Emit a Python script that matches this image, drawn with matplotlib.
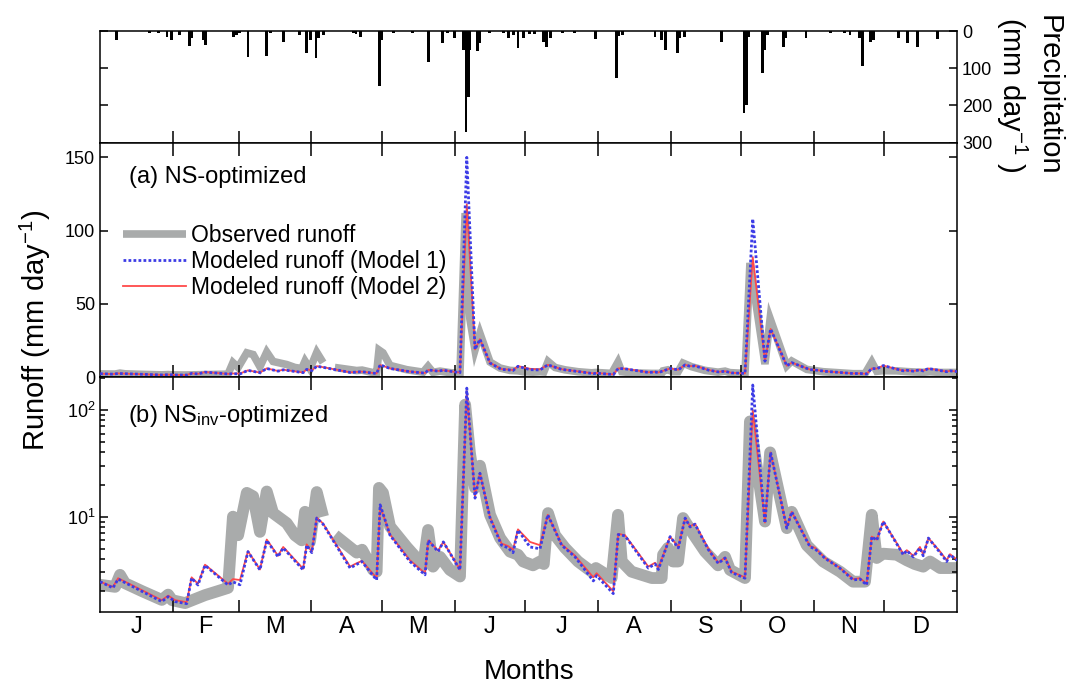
import numpy as np
import matplotlib
matplotlib.use('Agg')
import matplotlib.pyplot as plt
from matplotlib.ticker import NullFormatter, LogLocator

plt.rcParams['font.family'] = ['Liberation Sans', 'DejaVu Sans']
plt.rcParams['mathtext.fontset'] = 'custom'
plt.rcParams['mathtext.rm'] = 'Liberation Sans'
plt.rcParams['mathtext.it'] = 'Liberation Sans:italic'
plt.rcParams['mathtext.bf'] = 'Liberation Sans:bold'

TICK_FONT_SIZE = 13
OBS_COLOR = '#a9abab'
M1_COLOR = '#3c3ce6'
M2_COLOR = '#ff4a4a'

MONTHS = ['J', 'F', 'M', 'A', 'M', 'J', 'J', 'A', 'S', 'O', 'N', 'D']
MONTH_DAYS = [31, 28, 31, 30, 31, 30, 31, 31, 30, 31, 30, 31]

# daily precipitation (mm/day), only the rainy days
precip_day = [7, 21, 25, 28.5, 30.5, 34, 38, 39, 44, 45, 57, 58, 59.5, 63, 71, 72.5, 78, 85, 88, 89.5,
              92, 93, 95, 108, 109, 111, 119, 120, 125, 133, 140, 146, 148, 151, 154.7, 155.9, 156.9,
              157.6, 160.7, 161.8, 166, 172, 174, 176, 178, 180.3, 183, 185, 188.8, 190.2, 192, 197,
              202, 211, 220, 221, 222.4, 236.4, 239, 241, 246, 247, 249, 264.8, 274.3, 275.4, 276.3,
              282.2, 283.2, 284.2, 291, 292, 300.7, 311, 317, 319.4, 323.5, 324.8, 328, 329.5, 340,
              344, 348, 356.8]
precip_mm = [24, 4, 4, 15, 24, 11, 40, 20, 24, 37, 15, 11, 6, 70, 66, 6, 30, 11, 58, 24,
             73, 20, 11, 6, 8, 15, 149, 24, 6, 6, 82, 33, 5, 20, 51, 270, 176,
             51, 54, 33, 4, 6, 20, 11, 46, 20, 8, 8, 29, 42, 20, 4,
             4, 22, 127, 13, 11, 15, 24, 51, 60, 20, 15, 29, 220, 198, 15,
             113, 51, 11, 42, 20, 20, 4, 4, 11, 20, 94, 29, 24, 20,
             33, 42, 22]

# observed runoff (mm/day), nan = missing
obs_day = [0, 6.4, 8.5, 10.6, 18, 26.3, 29, 30.7, 36.2, 44.7, 50, 54.5, 56.6, 58.8, 62.5, 65.2, 68.1, 71,
           73.7, 79.5, 83, 85.9, 87.3, 89.4, 92.3, 95, 97, 100, 109.3, 111.6, 116.3, 117.8, 118.8, 120.5,
           123.5, 130.6, 137.6, 139.7, 141.8, 144.8, 149, 153.3, 155.5, 157.5, 159.7, 161.8, 166.1,
           170.4, 174.6, 178, 180.2, 184.4, 187.4, 189, 190.8, 193.8, 198, 203.6, 209.4, 211.2, 217.9,
           220.6, 222.2, 226.4, 235, 239.2, 239.8, 241.9, 244, 246.2, 248.3, 252, 257.7, 263.2, 266.2,
           268.3, 274.7, 276.8, 283.2, 285.4, 292.5, 294.6, 301, 308, 315.2, 320.7, 325.8, 328.7, 330.8,
           333.5, 339.3, 343.6, 347, 350.6, 353.5, 357.8, 365]
obs_runoff = [2.3, 2.2, 2.85, 2.38, 2.0, 1.66, 1.86, 1.65, 1.55, 1.84, 2.0, 2.15, 10.0, 6.7, 16.7, 15.5, 7.2, 17.2,
              10.8, 8.7, 6.7, 6.0, 11.1, 5.8, 17.0, 10.0, np.nan, 6.7, 4.6, 4.9, 3.17, 3.05, 18.6, 16.7,
              8.1, 5.2, 3.5, 7.5, 3.4, 4.2, 3.17, 2.75, 112, 40, 18.6, 30, 10.4,
              6.3, 4.7, 4.4, 3.8, 3.5, 3.8, 3.6, 10.8, 6.7, 5.1, 3.8, 3.05, 3.3, 2.66,
              10.4, 3.8, 3.05, 2.66, 2.66, 4.4, 5.1, 3.8, 3.8, 9.7, 7.2, 4.7, 3.5, 4.2,
              3.17, 2.66, 78, 9.0, 40, 7.8, 11.1, 5.4, 3.8, 3.05, 2.46, 2.46, 10.4, 4.1,
              4.5, 4.4, 3.9, 3.6, 3.4, 3.8, 3.3, 3.3]

# modeled runoff (mm/day)
mod_day = [0, 5.5, 7.7, 26.3, 29, 32, 36.9, 39, 41.7, 44.7,
           54.5, 56.6, 59.6, 63, 68.1, 71, 75.8, 78, 86.5, 88,
           90.2, 92.3, 95, 106.5, 108.6, 111.5, 117.8, 119.3, 123.5, 132,
           138.4, 139.8, 144, 146.2, 153.3, 156.2, 159.7, 161.8, 166.1, 171,
           173.8, 175.9, 178, 183.1, 187.4, 190.7, 196.6, 202.3, 210.1, 211.5,
           218.6, 220.7, 223.6, 233.5, 236.4, 237.8, 242.8, 246.3, 249.2, 251.3,
           253.4, 259.1, 263.3, 266.2, 269, 274.7, 278, 283.2, 285.6, 292.5,
           294.6, 302.4, 304.5, 308.8, 315.2, 320.8, 323.7, 326.5, 328.7, 330.8,
           333.6, 342.1, 343.6, 346.4, 349.2, 350.6, 352.8, 357.8, 360.6, 362,
           365]

# (a) NS-optimized
m1_ns = [2.46, 2.15, 2.6, 1.6, 1.78, 1.6, 1.53, 2.66, 2.29, 3.5,
         2.29, 2.45, 2.3, 4.7, 3.17, 6.0, 4.2, 5.1, 3.17, 5.4,
         4.6, 7.5, 6.8, 3.3, 3.5, 3.8, 2.55, 8.5, 6.0, 3.8,
         2.85, 5.0, 4.2, 4.8, 3.17, 150, 19, 26, 9.7, 5.4,
         5.1, 4.6, 7.5, 5.2, 5.0, 8.5, 5.4, 4.2, 2.5, 2.8,
         1.9, 6.0, 5.8, 3.3, 3.6, 3.2, 6.0, 5.1, 8.5, 7.5,
         7.8, 4.9, 3.65, 4.1, 3.0, 2.65, 108, 11, 33, 7.8,
         10.0, 5.2, 5.0, 4.07, 3.28, 2.55, 2.6, 2.29, 6.0, 5.8,
         8.0, 4.4, 4.8, 4.2, 5.1, 4.3, 6.0, 4.6, 3.8, 4.4,
         3.9]
m2_ns = [2.46, 2.2, 2.65, 1.65, 1.82, 1.65, 1.58, 2.7, 2.35, 3.55,
         2.35, 2.6, 2.55, 4.75, 3.2, 6.1, 4.3, 5.2, 3.25, 5.5,
         4.7, 7.6, 6.9, 3.4, 3.6, 3.85, 2.66, 8.4, 6.1, 3.9,
         2.95, 5.0, 4.3, 4.8, 3.2, 118, 19, 26, 9.9, 5.6,
         5.3, 4.9, 7.6, 5.8, 5.4, 8.5, 5.5, 4.3, 2.7, 2.95,
         2.0, 6.1, 5.9, 3.4, 3.7, 3.3, 6.0, 5.2, 8.5, 7.6,
         7.9, 5.0, 3.7, 4.15, 3.05, 2.7, 82, 11, 33, 7.9,
         10.0, 5.3, 5.1, 4.1, 3.3, 2.6, 2.65, 2.35, 6.0, 5.9,
         8.0, 4.5, 4.85, 4.3, 5.2, 4.4, 6.0, 4.7, 3.9, 4.45,
         3.95]

# (b) NSinv-optimized
m1_inv = [2.46, 2.15, 2.6, 1.6, 1.78, 1.6, 1.53, 2.66, 2.29, 3.5,
          2.29, 2.45, 2.3, 4.7, 3.17, 6.0, 4.2, 5.1, 3.17, 5.4,
          4.6, 9.7, 8.5, 3.3, 3.5, 3.8, 2.55, 12.9, 6.7, 3.8,
          2.85, 6.0, 4.7, 5.8, 3.17, 160, 14.9, 25.5, 9.7, 5.4,
          5.1, 4.6, 7.5, 5.2, 5.0, 10.4, 5.4, 4.2, 2.5, 2.8,
          1.9, 6.8, 6.6, 3.3, 3.6, 3.2, 6.5, 5.1, 9.7, 8.0,
          8.5, 4.9, 3.65, 4.1, 3.0, 2.65, 171, 8.7, 40, 7.8,
          11.1, 5.2, 5.0, 4.07, 3.28, 2.55, 2.6, 2.29, 6.5, 6.0,
          9.0, 4.4, 4.8, 4.2, 5.1, 4.3, 6.3, 4.6, 3.8, 4.4,
          3.9]
m2_inv = [2.46, 2.2, 2.65, 1.65, 1.82, 1.65, 1.58, 2.7, 2.35, 3.55,
          2.35, 2.6, 2.55, 4.75, 3.2, 6.1, 4.3, 5.2, 3.25, 5.5,
          4.7, 9.8, 8.6, 3.4, 3.6, 3.85, 2.66, 12.5, 6.8, 3.9,
          2.95, 6.0, 4.8, 5.8, 3.2, 150, 15.5, 25.5, 9.9, 5.6,
          5.3, 4.9, 7.6, 5.8, 5.4, 10.4, 5.5, 4.3, 2.7, 2.95,
          2.0, 6.9, 6.7, 3.4, 3.7, 3.3, 6.5, 5.2, 9.7, 8.1,
          8.6, 5.0, 3.7, 4.15, 3.05, 2.7, 100, 8.8, 40, 7.9,
          11.1, 5.3, 5.1, 4.1, 3.3, 2.6, 2.65, 2.35, 6.5, 6.1,
          9.0, 4.5, 4.85, 4.3, 5.2, 4.4, 6.3, 4.7, 3.9, 4.45,
          3.95]

month_edges = np.cumsum(MONTH_DAYS)
month_mids = month_edges - np.array(MONTH_DAYS) / 2.0


def month_axis(ax, top=True):
    ax.set_xlim(0, 365)
    ax.set_xticks(month_edges[:-1])
    ax.set_xticklabels([])
    ax.tick_params(axis='x', which='major', direction='in', length=9, width=1.1,
                   top=top, bottom=True)
    ax.tick_params(axis='y', which='both', direction='in', left=True, right=True,
                   labelsize=TICK_FONT_SIZE, width=1.1)
    ax.tick_params(axis='y', which='major', length=6)
    ax.tick_params(axis='y', which='minor', length=3.5)
    for s in ax.spines.values():
        s.set_linewidth(1.1)


def draw_runoff(ax, m1, m2, obs_lw, join):
    l0, = ax.plot(obs_day, obs_runoff, color=OBS_COLOR, lw=obs_lw, solid_joinstyle=join,
                  solid_capstyle='butt', label='Observed runoff', zorder=1)
    l2, = ax.plot(mod_day, m2, color=M2_COLOR, lw=1.3, label='Modeled runoff (Model 2)', zorder=2)
    l1, = ax.plot(mod_day, m1, color=M1_COLOR, lw=2.0, dashes=(1, 0.8),
                  label='Modeled runoff (Model 1)', zorder=3)
    return l0, l1, l2


fig = plt.figure(figsize=(10.77, 6.88), dpi=100)
L, W = 0.0929, 0.7957
ax_p = fig.add_axes([L, 0.7926, W, 0.1623])
ax_a = fig.add_axes([L, 0.4516, W, 0.3410])
ax_b = fig.add_axes([L, 0.1100, W, 0.3416])

# precipitation
ax_p.bar(precip_day, precip_mm, width=1.2, color='black')
ax_p.set_ylim(300, 0)
ax_p.set_yticks([0, 100, 200, 300])
month_axis(ax_p, top=False)
ax_p.tick_params(axis='y', labelleft=False, labelright=True)

# (a)
l0, l1, l2 = draw_runoff(ax_a, m1_ns, m2_ns, 5.5, 'miter')
ax_a.set_ylim(0, 160)
ax_a.set_yticks([0, 50, 100, 150])
month_axis(ax_a)
ax_a.text(0.034, 0.827, '(a) NS-optimized', transform=ax_a.transAxes, fontsize=17, va='baseline')
ax_a.legend([l0, l1, l2], [l0.get_label(), l1.get_label(), l2.get_label()],
            loc='upper left', bbox_to_anchor=(0.027, 0.652), frameon=False, fontsize=16.5,
            handlelength=2.75, handletextpad=0.2, labelspacing=0.12, borderpad=0, borderaxespad=0)

# (b)
draw_runoff(ax_b, m1_inv, m2_inv, 8.5, 'round')
ax_b.set_yscale('log')
ax_b.set_ylim(1.27, 202)
ax_b.yaxis.set_minor_locator(LogLocator(base=10, subs=np.arange(2, 10)))
ax_b.yaxis.set_minor_formatter(NullFormatter())
month_axis(ax_b)
ax_b.set_xticks(month_mids, minor=True)
ax_b.set_xticklabels(MONTHS, minor=True)
ax_b.tick_params(axis='x', which='minor', length=0, pad=3, labelsize=17, top=False)
ax_b.text(0.033, 0.811, '(b) NS$_{\\rm inv}$-optimized', transform=ax_b.transAxes,
          fontsize=17, va='baseline')

fig.text(0.033, 0.52, 'Runoff (mm day$^{-1}$)', rotation=90, ha='center', va='center', fontsize=21)
fig.text(0.491, 0.023, 'Months', ha='center', va='center', fontsize=20)
fig.text(0.955, 0.862, 'Precipitation\n(mm day$^{-1}$ )', rotation=270, ha='center', va='center',
         multialignment='center', fontsize=21)

fig.savefig('out.png', dpi=100)
